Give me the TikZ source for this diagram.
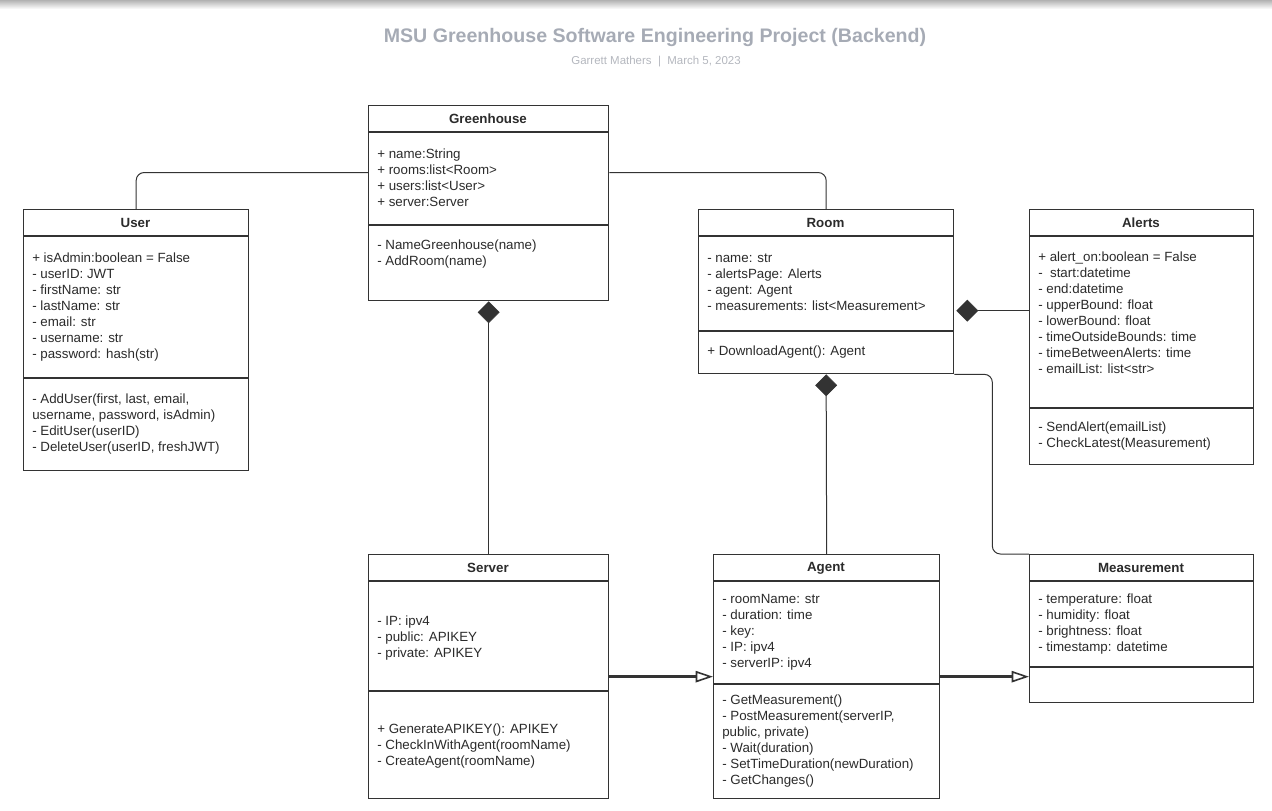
\documentclass[tikz,border=0pt]{standalone}
\usepackage{fontspec}
\setmainfont{Liberation Sans}
\usetikzlibrary{shapes.geometric,arrows.meta}
\definecolor{linegray}{HTML}{333333}
\definecolor{textgray}{HTML}{2B2B2B}
\definecolor{titlegray}{HTML}{A6ABB5}
\definecolor{subgray}{HTML}{B4B7BE}
\begin{document}
\begin{tikzpicture}[x=0.75pt,y=-0.75pt,
  classbox/.style={draw=linegray,line width=1pt,fill=white,anchor=north west,inner sep=0pt},
  ctitle/.style={font=\bfseries\fontsize{10}{12}\selectfont,text=textgray,inner sep=0pt},
  members/.style={anchor=north west,align=left,inner sep=0pt,font=\fontsize{10}{12}\selectfont,text=textgray},
  agg/.style={diamond,fill=linegray,draw=linegray,inner sep=0pt,minimum width=16pt,minimum height=16pt},
  link/.style={draw=linegray,line width=0.75pt,rounded corners=6pt},
  flow/.style={draw=linegray,line width=2.25pt,-{Triangle[open,length=13pt,width=8.5pt,line width=1.2pt]}}]
 \useasboundingbox (0,0) rectangle (1272,811);
 \shade[top color=black!30,bottom color=white] (0,0) rectangle (1272,9);

 % heading
 \node[font=\bfseries\fontsize{14.7}{17}\selectfont,text=titlegray](title) at (655,37){MSU Greenhouse Software Engineering Project (Backend)};
 \node[font=\fontsize{8.6}{10}\selectfont,text=subgray](sub) at (656,62){Garrett Mathers \ |\ \ March 5, 2023};

 % class boxes
 \node[classbox,minimum width=180pt,minimum height=146.25pt](greenhouse) at (368,105){};
 \node[classbox,minimum width=168.75pt,minimum height=195.75pt](user) at (23,209){};
 \node[classbox,minimum width=191.25pt,minimum height=123pt](room) at (698,209){};
 \node[classbox,minimum width=168pt,minimum height=191.25pt](alerts) at (1029,209){};
 \node[classbox,minimum width=180pt,minimum height=183pt](server) at (368,554){};
 \node[classbox,minimum width=169.5pt,minimum height=183pt](agent) at (713,554){};
 \node[classbox,minimum width=168pt,minimum height=111pt](measurement) at (1029,554){};

 % compartments
 \draw[draw=linegray,line width=1pt] (368,132) -- (608,132) (368,225) -- (608,225);
 \draw[draw=linegray,line width=1pt] (23,236) -- (248,236) (23,378) -- (248,378);
 \draw[draw=linegray,line width=1pt] (698,236) -- (953,236) (698,331) -- (953,331);
 \draw[draw=linegray,line width=1pt] (1029,236) -- (1253,236) (1029,408) -- (1253,408);
 \draw[draw=linegray,line width=1pt] (368,581) -- (608,581) (368,691) -- (608,691);
 \draw[draw=linegray,line width=1pt] (713,581) -- (939,581) (713,684) -- (939,684);
 \draw[draw=linegray,line width=1pt] (1029,581) -- (1253,581) (1029,667) -- (1253,667);

 % names
 \node[ctitle](ghT) at (488,119){Greenhouse};
 \node[ctitle](usT) at (135.5,223){User};
 \node[ctitle](rmT) at (825.5,223){Room};
 \node[ctitle](alT) at (1141,223){Alerts};
 \node[ctitle](svT) at (488,568){Server};
 \node[ctitle](agT) at (826,568){Agent};
 \node[ctitle](msT) at (1141,568){Measurement};

 % attributes and methods
 \node[members](ghA) at (377,147.5){\strut+ name:String\\+ rooms:list<Room>\\+ users:list<User>\\+ server:Server};
 \node[members](ghM) at (377,238.5){\strut- NameGreenhouse(name)\\- AddRoom(name)};

 \node[members](usA) at (32,251.5){\strut+ isAdmin:boolean = False\\- userID: JWT\\- firstName: str\\- lastName: str\\- email: str\\- username: str\\- password: hash(str)};
 \node[members](usM) at (32,392.5){\strut- AddUser(first, last, email,\\username, password, isAdmin)\\- EditUser(userID)\\- DeleteUser(userID, freshJWT)};

 \node[members](rmA) at (707,251.5){\strut- name: str\\- alertsPage: Alerts\\- agent: Agent\\- measurements: list<Measurement>};
 \node[members](rmM) at (707,344.5){\strut+ DownloadAgent(): Agent};

 \node[members](alA) at (1038,250.5){\strut+ alert\_on:boolean = False\\-\ \ start:datetime\\- end:datetime\\- upperBound: float\\- lowerBound: float\\- timeOutsideBounds: time\\- timeBetweenAlerts: time\\- emailList: list<str>};
 \node[members](alM) at (1038,420.5){\strut- SendAlert(emailList)\\- CheckLatest(Measurement)};

 \node[members](svA) at (377,614.5){\strut- IP: ipv4\\- public: APIKEY\\- private: APIKEY};
 \node[members](svM) at (377,722.5){\strut+ GenerateAPIKEY(): APIKEY\\- CheckInWithAgent(roomName)\\- CreateAgent(roomName)};

 \node[members](agA) at (722,592.5){\strut- roomName: str\\- duration: time\\- key:\\- IP: ipv4\\- serverIP: ipv4};
 \node[members](agM) at (722,693.5){\strut- GetMeasurement()\\- PostMeasurement(serverIP,\\public, private)\\- Wait(duration)\\- SetTimeDuration(newDuration)\\- GetChanges()};

 \node[members](msA) at (1038,592.5){\strut- temperature: float\\- humidity: float\\- brightness: float\\- timestamp: datetime};

 % aggregation diamonds
 \node[agg,anchor=north](ghD) at (greenhouse.south){};
 \node[agg,anchor=north](rmD) at (room.south){};
 \node[agg,anchor=west](rmAl) at ([xshift=1.5pt,yshift=-14.25pt]room.east){};

 % connectors
 \draw[link] ([yshift=23pt]greenhouse.west) -| (user.north);
 \draw[link] ([yshift=23pt]greenhouse.east) -| (room.north);
 \draw[link] (ghD) -- (server.north);
 \draw[link] (rmD) -- (agent.north);
 \draw[link] (rmAl) -- (rmAl -| alerts.west);
 \draw[link] (room.south east) -- ++(38,0) |- (measurement.north west);
 \draw[flow] (server.east) -- (agent.west);
 \draw[flow] (agent.east) -- (agent.east -| measurement.west);

\end{tikzpicture}
\end{document}
